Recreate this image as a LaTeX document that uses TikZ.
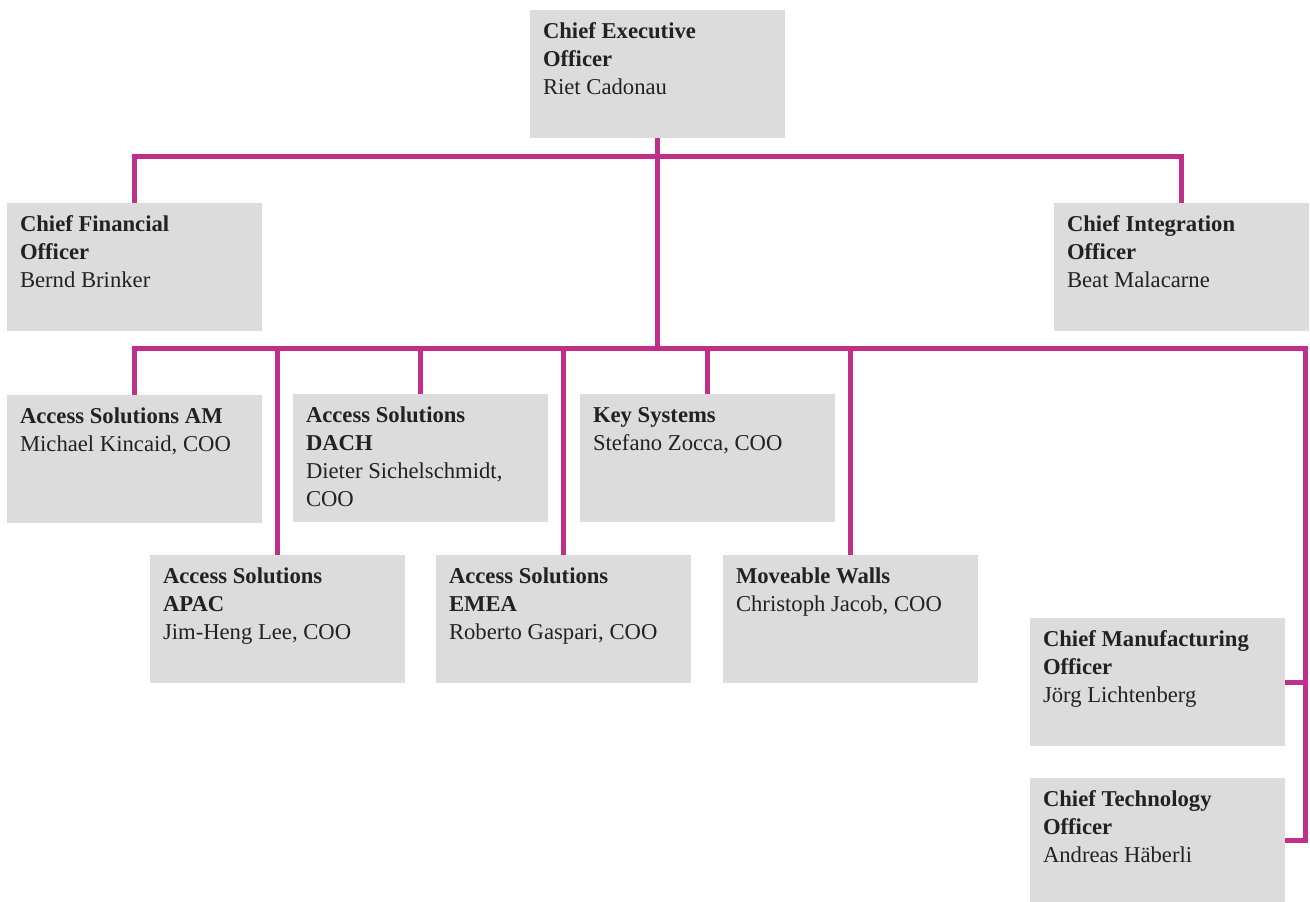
\documentclass[tikz,border=0pt]{standalone}
\usepackage{fontspec}
\setmainfont{Liberation Serif}
\definecolor{mag}{HTML}{C0308A}
\definecolor{boxgray}{HTML}{DCDCDC}
\definecolor{txt}{HTML}{222222}
\newcommand{\orgtext}[2][83.4pt]{\parbox[c][#1][t]{171.75pt}{\raggedright\fontsize{17}{21}\selectfont\strut #2}}
\tikzset{
  orgbox/.style={fill=boxgray, inner xsep=9.75pt, inner ysep=6.3pt, anchor=north west, text=txt, outer sep=0pt},
  conn/.style={draw=mag, line width=3.75pt, line join=miter, line cap=butt}
}
\begin{document}
\begin{tikzpicture}[x=0.75pt,y=-0.75pt]
\useasboundingbox (0,0) rectangle (1310,901);
\node[orgbox] (ceo) at (530,10) {\orgtext{\textbf{Chief Executive}\\\textbf{Officer}\\Riet Cadonau}};
\node[orgbox] (cfo) at (7,203) {\orgtext{\textbf{Chief Financial}\\\textbf{Officer}\\Bernd Brinker}};
\node[orgbox] (cio) at (1054,203) {\orgtext{\textbf{Chief Integration}\\\textbf{Officer}\\Beat Malacarne}};
\node[orgbox] (am) at (7,395) {\orgtext{\textbf{Access Solutions AM}\\Michael Kincaid, COO}};
\node[orgbox] (dach) at (293,394) {\orgtext{\textbf{Access Solutions}\\\textbf{DACH}\\Dieter Sichelschmidt,\\COO}};
\node[orgbox] (key) at (580,394) {\orgtext{\textbf{Key Systems}\\Stefano Zocca, COO}};
\node[orgbox] (apac) at (150,555) {\orgtext{\textbf{Access Solutions}\\\textbf{APAC}\\Jim-Heng Lee, COO}};
\node[orgbox] (emea) at (436,555) {\orgtext{\textbf{Access Solutions}\\\textbf{EMEA}\\Roberto Gaspari, COO}};
\node[orgbox] (walls) at (723,555) {\orgtext{\textbf{Moveable Walls}\\Christoph Jacob, COO}};
\node[orgbox] (cmo) at (1030,618) {\orgtext{\textbf{Chief Manufacturing}\\\textbf{Officer}\\Jörg Lichtenberg}};
\node[orgbox] (cto) at (1030,778) {\orgtext[80.4pt]{\textbf{Chief Technology}\\\textbf{Officer}\\Andreas Häberli}};
\coordinate (h1) at (0,156);
\coordinate (h2) at (0,348);
\coordinate (h2r) at (1305,348);
% connectors
\draw[conn] (cfo.north) -- (cfo.north |- h1) -- (cio.north |- h1) -- (cio.north);
\draw[conn] (ceo.south) -- (ceo.south |- h2);
\draw[conn] (am.north) -- (am.north |- h2) -- (h2r) -- (h2r |- cto.east) -- (cto.east);
\draw[conn] (apac.north) -- (apac.north |- h2);
\draw[conn] (dach.north) -- (dach.north |- h2);
\draw[conn] (emea.north) -- (emea.north |- h2);
\draw[conn] (key.north) -- (key.north |- h2);
\draw[conn] (walls.north) -- (walls.north |- h2);
\draw[conn] (cmo.east) -- (cmo.east -| h2r);
\end{tikzpicture}
\end{document}
